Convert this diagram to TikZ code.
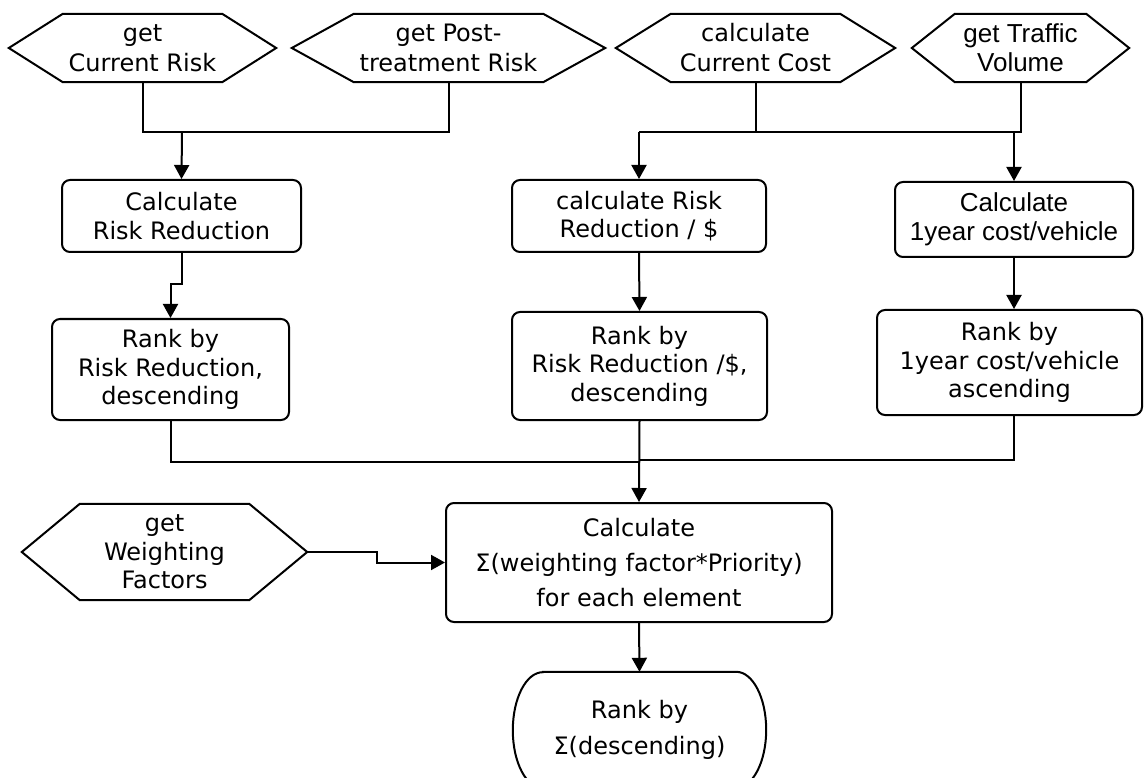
\documentclass[tikz,border=0pt]{standalone}
\usepackage{fontspec}
\setmainfont{DejaVu Sans}
\newfontfamily\arialfont{Liberation Sans}
\usetikzlibrary{arrows.meta}

% outline of a six-sided data box drawn around a (borderless) node
\newcommand{\hexoutline}[2]{%
  \draw[line] (#1.west) -- ([xshift=#2]#1.north west) -- ([xshift=-#2]#1.north east)
    -- (#1.east) -- ([xshift=-#2]#1.south east) -- ([xshift=#2]#1.south west) -- cycle;}

\begin{document}
\begin{tikzpicture}[x=1pt,y=-1pt,
  line/.style={line width=2pt, line join=miter},
  arr/.style={line, -{Triangle[length=14pt,width=15pt]}},
  txt/.style={align=center, inner sep=0pt, font=\fontsize{24pt}{30pt}\selectfont},
  hexbox/.style={txt, minimum height=68pt},
  procbox/.style={txt, draw, line width=2pt, rounded corners=8pt},
  sans28/.style={font=\fontsize{24pt}{28.5pt}\selectfont},
  arial/.style={font=\arialfont\fontsize{26pt}{29pt}\selectfont},
]
\path[use as bounding box] (0,0) rectangle (1144,778);
\fill[white] (0,0) rectangle (1144,778);
\clip (0,0) rectangle (1144,778);

% input data
\node[hexbox, minimum width=267pt] (h1) at (142.5,48) {get\\Current Risk};
\hexoutline{h1}{54pt}
\node[hexbox, minimum width=313pt] (h2) at (448.5,48) {get Post-\\treatment Risk};
\hexoutline{h2}{62pt}
\node[hexbox, minimum width=279pt] (h3) at (755.5,48) {calculate\\Current Cost};
\hexoutline{h3}{55pt}
\node[hexbox, minimum width=217pt, arial] (h4) at (1020.5,48) {get Traffic\\Volume};
\hexoutline{h4}{43pt}
\node[hexbox, minimum width=285pt, minimum height=96pt, sans28] (w) at (164.5,552) {get\\Weighting\\Factors};
\hexoutline{w}{58pt}

% processing steps
\node[procbox, minimum width=239pt, minimum height=72pt, sans28] (b1) at (181.5,216) {Calculate\\Risk Reduction};
\node[procbox, minimum width=254pt, minimum height=72pt, sans28] (b2) at (639,216) {calculate Risk\\Reduction / \$};
\node[procbox, minimum width=238pt, minimum height=75pt, arial] (b3) at (1014,219.5) {Calculate\\1year cost/vehicle};

\node[procbox, minimum width=237pt, minimum height=101pt, sans28] (r1) at (170.5,369.5) {Rank by\\Risk Reduction,\\descending};
\node[procbox, minimum width=255pt, minimum height=108pt, sans28] (r2) at (639.5,366) {Rank by\\Risk Reduction /\$,\\descending};
\node[procbox, minimum width=265pt, minimum height=105pt, sans28] (r3) at (1009.5,362.5) {Rank by\\1year cost/vehicle\\ascending};

\node[procbox, minimum width=386pt, minimum height=119pt, font=\fontsize{24pt}{35pt}\selectfont] (c) at (639,562.5)
  {Calculate\\Σ(weighting factor*Priority)\\for each element};

% terminator
\node[txt, minimum width=253pt, minimum height=116pt, font=\fontsize{24pt}{36pt}\selectfont] (t) at (639.5,730)
  {Rank by\\Σ(descending)};
\draw[line] ([xshift=30pt]t.north west) -- ([xshift=-30pt]t.north east)
  arc[start angle=90, end angle=-90, x radius=30pt, y radius=58pt]
  -- ([xshift=30pt]t.south west)
  arc[start angle=270, end angle=90, x radius=30pt, y radius=58pt] -- cycle;

% connectors
\coordinate (busL) at (182,132);
\coordinate (busA) at (639,132);
\coordinate (busB) at (1014,132);
\coordinate (joinL) at (639,462);
\coordinate (joinR) at (639,460);
\coordinate (wbend) at (377,552);

\draw[line] (h1.south) |- (busL);
\draw[line] (h2.south) |- (busL);
\draw[arr] (busL) -- (b1.north);

\draw[line] (h3.south) |- (busA);
\draw[line] (h4.south) |- (busB);
\draw[line] (busA) -- (busB);
\draw[arr] (busA) -- (b2.north);
\draw[arr] (busB) -- (b3.north);

\draw[arr] (b1.south) -- ++(0,31) -| (r1.north);
\draw[arr] (b2.south) -- (r2.north);
\draw[arr] (b3.south) -- (b3.south |- r3.north);

\draw[line] (r1.south) |- (joinL);
\draw[line] (r3.south -| b3.south) |- (joinR);
\draw[arr] (r2.south) -- (c.north);

\draw[arr] (w.east) -- (wbend) |- (c.west);
\draw[arr] (c.south) -- (t.north);
\end{tikzpicture}
\end{document}
